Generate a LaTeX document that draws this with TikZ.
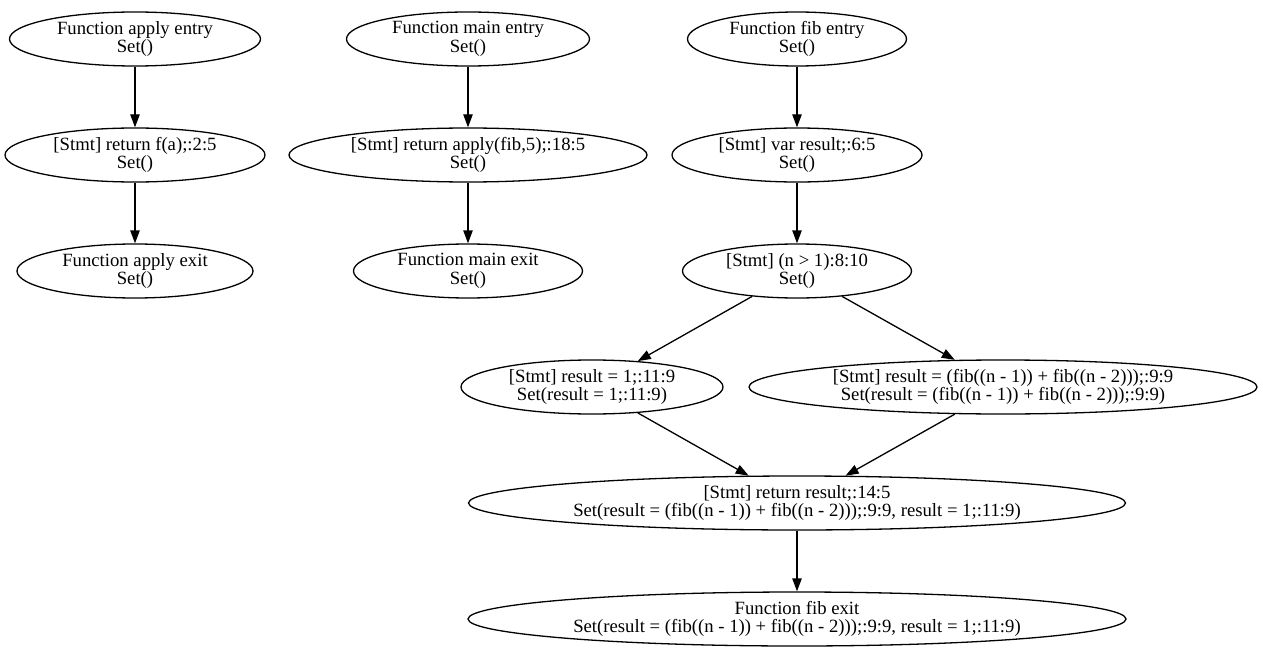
\documentclass[tikz,border=0pt]{standalone}
\usepackage{fontspec}
\setmainfont{Liberation Serif}
\usetikzlibrary{shapes.geometric,arrows.meta}
\begin{document}
\begin{tikzpicture}[x=0.5pt,y=-0.5pt,
    cfgnode/.style={draw, ellipse, inner sep=0pt, align=center, line width=0.65pt,
        font=\fontsize{9.35}{9.35}\selectfont, minimum height=27pt},
    cfgedge/.style={-{Triangle[length=6.5pt,width=4.7pt]}, line width=0.65pt}]
    \useasboundingbox (0,0) rectangle (1263,658);
    \node[cfgnode, minimum width=125.5pt] (applyentry) at (135,39) {Function apply entry\\Set()};
    \node[cfgnode, minimum width=130pt] (applyret) at (135,155) {[Stmt] return f(a);:2:5\\Set()};
    \node[cfgnode, minimum width=118pt] (applyexit) at (135,271) {Function apply exit\\Set()};
    \node[cfgnode, minimum width=121.5pt] (mainentry) at (468,39) {Function main entry\\Set()};
    \node[cfgnode, minimum width=179pt] (mainret) at (468,155) {[Stmt] return apply(fib,5);:18:5\\Set()};
    \node[cfgnode, minimum width=114.5pt] (mainexit) at (468,271) {Function main exit\\Set()};
    \node[cfgnode, minimum width=109.5pt] (fibentry) at (797,39) {Function fib entry\\Set()};
    \node[cfgnode, minimum width=125pt] (varresult) at (797,155) {[Stmt] var result;:6:5\\Set()};
    \node[cfgnode, minimum width=114.5pt] (cond) at (797,271) {[Stmt] (n > 1):8:10\\Set()};
    \node[cfgnode, minimum width=131pt] (resone) at (592,387) {[Stmt] result = 1;:11:9\\Set(result = 1;:11:9)};
    \node[cfgnode, minimum width=254pt] (resfib) at (1003,387) {[Stmt] result = (fib((n - 1)) + fib((n - 2)));:9:9\\Set(result = (fib((n - 1)) + fib((n - 2)));:9:9)};
    \node[cfgnode, minimum width=328.5pt] (retresult) at (797,503) {[Stmt] return result;:14:5\\Set(result = (fib((n - 1)) + fib((n - 2)));:9:9, result = 1;:11:9)};
    \node[cfgnode, minimum width=329pt] (fibexit) at (797,619) {Function fib exit\\Set(result = (fib((n - 1)) + fib((n - 2)));:9:9, result = 1;:11:9)};
    \draw[cfgedge] (applyentry) -- (applyret);
    \draw[cfgedge] (applyret) -- (applyexit);
    \draw[cfgedge] (mainentry) -- (mainret);
    \draw[cfgedge] (mainret) -- (mainexit);
    \draw[cfgedge] (fibentry) -- (varresult);
    \draw[cfgedge] (varresult) -- (cond);
    \draw[cfgedge] (cond) -- (resone);
    \draw[cfgedge] (cond) -- (resfib);
    \draw[cfgedge] (resone) -- (retresult);
    \draw[cfgedge] (resfib) -- (retresult);
    \draw[cfgedge] (retresult) -- (fibexit);
\end{tikzpicture}
\end{document}
